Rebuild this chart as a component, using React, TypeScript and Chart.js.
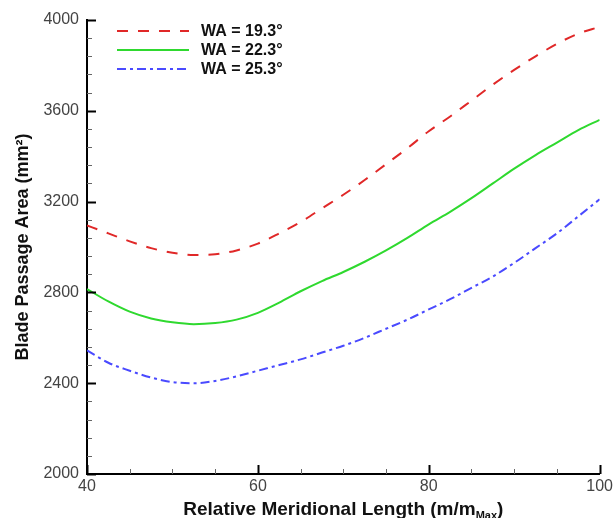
import React, { useEffect, useRef } from "react";
import { Chart, registerables } from "chart.js";

Chart.register(...registerables);

const xValues = [40, 42.5, 45, 47.5, 50, 52.5, 55, 57.5, 60, 62.5, 65, 67.5, 70, 72.5, 75, 77.5, 80, 82.5, 85, 87.5, 90, 92.5, 95, 97.5, 100];
const wa193 = [3095, 3060, 3025, 2995, 2975, 2965, 2968, 2985, 3015, 3060, 3110, 3170, 3230, 3295, 3365, 3435, 3510, 3575, 3645, 3715, 3780, 3840, 3895, 3940, 3970];
const wa223 = [2815, 2760, 2715, 2685, 2668, 2660, 2665, 2680, 2710, 2755, 2805, 2850, 2890, 2935, 2985, 3040, 3100, 3155, 3215, 3280, 3345, 3405, 3460, 3515, 3560];
const wa253 = [2545, 2490, 2455, 2425, 2405, 2400, 2410, 2430, 2455, 2480, 2505, 2535, 2565, 2600, 2640, 2680, 2725, 2770, 2820, 2870, 2930, 2995, 3060, 3135, 3210];
const seriesLabels = ["WA = 19.3°", "WA = 22.3°", "WA = 25.3°"];
const xTitleMain = "Relative Meridional Length (m/m";
const xTitleSub = "Max";
const yTitle = "Blade Passage Area (mm²)";

const FONT = "'Liberation Sans', Arial, Helvetica, sans-serif";

const ticksPlugin = {
  id: "customTicks",
  afterDraw(chart: any) {
    const ctx = chart.ctx;
    const xs = chart.scales.x;
    const ys = chart.scales.y;
    const { left, bottom } = chart.chartArea;
    ctx.save();
    ctx.strokeStyle = "#000";
    for (let v = 2000; v <= 4000; v += 80) {
      const major = v % 400 === 0;
      const py = Math.round(ys.getPixelForValue(v)) + 0.5;
      ctx.lineWidth = major ? 2 : 1;
      ctx.strokeStyle = major ? "#000" : "#666";
      ctx.beginPath();
      ctx.moveTo(left, py);
      ctx.lineTo(left + (major ? 9 : 5), py);
      ctx.stroke();
    }
    for (let v = 40; v <= 100; v += 5) {
      const major = v % 20 === 0;
      const px = Math.round(xs.getPixelForValue(v)) + 0.5;
      ctx.lineWidth = major ? 2 : 1;
      ctx.strokeStyle = major ? "#000" : "#666";
      ctx.beginPath();
      ctx.moveTo(px, bottom);
      ctx.lineTo(px, bottom - (major ? 9 : 5));
      ctx.stroke();
    }
    // x title with subscript
    ctx.fillStyle = "#111";
    ctx.textBaseline = "alphabetic";
    ctx.font = `bold 19px ${FONT}`;
    const w1 = ctx.measureText(xTitleMain).width;
    ctx.font = `bold 11px ${FONT}`;
    const w2 = ctx.measureText(xTitleSub).width;
    ctx.font = `bold 19px ${FONT}`;
    const w3 = ctx.measureText(")").width;
    const total = w1 + w2 + w3;
    const cx = (chart.chartArea.left + chart.chartArea.right) / 2;
    const x0 = cx - total / 2;
    const baseY = 515;
    ctx.textAlign = "left";
    ctx.fillText(xTitleMain, x0, baseY);
    ctx.font = `bold 11px ${FONT}`;
    ctx.fillText(xTitleSub, x0 + w1, baseY + 4);
    ctx.font = `bold 19px ${FONT}`;
    ctx.fillText(")", x0 + w1 + w2, baseY);

    // legend
    const datasets = chart.data.datasets;
    const ly = [31, 50, 69];
    datasets.forEach((ds: any, i: number) => {
      ctx.save();
      ctx.strokeStyle = ds.borderColor;
      ctx.lineWidth = 2;
      ctx.setLineDash(ds.borderDash || []);
      ctx.beginPath();
      ctx.moveTo(117, ly[i]);
      ctx.lineTo(189, ly[i]);
      ctx.stroke();
      ctx.restore();
      ctx.fillStyle = "#111";
      ctx.font = `bold 16px ${FONT}`;
      ctx.textBaseline = "middle";
      ctx.textAlign = "left";
      ctx.fillText(ds.label, 201, ly[i] + 1);
    });
    ctx.restore();
  },
};

export default function App() {
  const ref = useRef<HTMLCanvasElement | null>(null);
  useEffect(() => {
    if (!ref.current) return;
    const mk = (arr: number[]) => xValues.map((x, i) => ({ x, y: arr[i] }));
    const chart = new Chart(ref.current, {
      type: "line",
      data: {
        datasets: [
          { label: seriesLabels[0], data: mk(wa193), borderColor: "#e02828", borderWidth: 2, borderDash: [11, 10], pointRadius: 0, tension: 0.4, cubicInterpolationMode: "monotone", fill: false },
          { label: seriesLabels[1], data: mk(wa223), borderColor: "#2fd92f", borderWidth: 2, pointRadius: 0, tension: 0.4, cubicInterpolationMode: "monotone", fill: false },
          { label: seriesLabels[2], data: mk(wa253), borderColor: "#4a4aff", borderWidth: 2, borderDash: [9, 4, 3, 4], pointRadius: 0, tension: 0.4, cubicInterpolationMode: "monotone", fill: false },
        ],
      },
      options: {
        animation: false,
        responsive: false,
        maintainAspectRatio: false,
        layout: { padding: { left: 0, right: 14, top: 20, bottom: 0 } },
        plugins: { legend: { display: false }, tooltip: { enabled: false } },
        scales: {
          x: {
            type: "linear",
            min: 40,
            max: 100,
            grid: { display: false, drawTicks: false },
            border: { display: true, color: "#000", width: 2 },
            ticks: { stepSize: 20, padding: 3, color: "#444", font: { family: FONT, size: 16 }, callback: (v: any) => String(v) },
            afterFit: (s: any) => { s.height = 44; },
          },
          y: {
            min: 2000,
            max: 4000,
            grid: { display: false, drawTicks: false },
            border: { display: true, color: "#000", width: 2 },
            ticks: { stepSize: 400, padding: 8, color: "#444", font: { family: FONT, size: 16 }, callback: (v: any) => String(v) },
            title: { display: true, text: yTitle, color: "#111", font: { family: FONT, size: 18, weight: "bold", lineHeight: 1.2 }, padding: { top: 12, bottom: 0 } },
            afterFit: (s: any) => { s.width = 87; },
          },
        },
      },
      plugins: [ticksPlugin],
    } as any);
    return () => chart.destroy();
  }, []);
  return (
    <div style={{ position: "fixed", left: 0, top: 0, width: 616, height: 518, background: "#fff" }}>
      <canvas ref={ref} width={616} height={518} style={{ display: "block", width: 616, height: 518 }} />
    </div>
  );
}
